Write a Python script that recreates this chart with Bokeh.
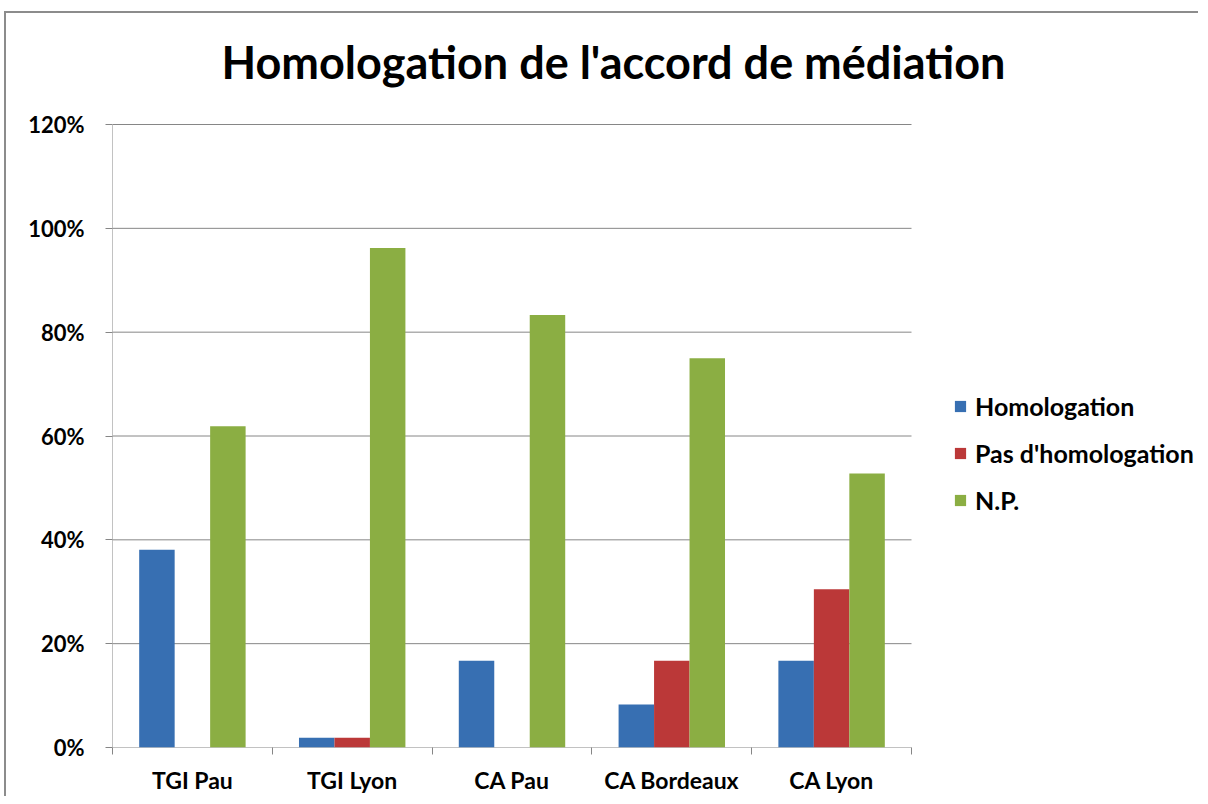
import numpy as np
from bokeh.plotting import figure
from bokeh.models import (Range1d, FixedTicker, NumeralTickFormatter, Legend, LegendItem,
                          ColumnDataSource, Label)
from bokeh.embed import file_html
from bokeh.resources import INLINE

categories = ["TGI Pau", "TGI Lyon", "CA Pau", "CA Bordeaux", "CA Lyon"]
homologation = [0.381, 0.019, 0.167, 0.083, 0.167]
pas_homologation = [0.0, 0.019, 0.0, 0.167, 0.305]
np_values = [0.619, 0.962, 0.833, 0.750, 0.528]
series_names = ["Homologation", "Pas d'homologation", "N.P."]
y_ticks = [0, 0.2, 0.4, 0.6, 0.8, 1.0, 1.2]
title_text = "Homologation de l'accord de médiation"

FONT = "Lato"
colors = ["#376fb2", "#bb3838", "#8bae43"]
GRID = "#868686"
bar_w = 0.222
offsets = [-bar_w, 0.0, bar_w]

# layout (pixels)
W, H = 1194, 785
BL, BB = 106, 51
plot_px_w = 799   # width of the category area
plot_px_h = 623   # height of the 0..120% area
frame_w = W - BL
frame_h = H - BB
n = len(categories)
y_top = y_ticks[-1]
x_end = n * frame_w / plot_px_w
y_end = y_top * frame_h / plot_px_h

p = figure(width=W, height=H, output_backend="svg", toolbar_location=None,
           x_range=Range1d(0, x_end), y_range=Range1d(0, y_end),
           min_border_left=BL, min_border_right=0, min_border_top=0, min_border_bottom=BB)
p.title.visible = False

centers = np.arange(n) + 0.5

# horizontal grid lines limited to the category area, and the vertical axis line
p.segment(x0=[0] * len(y_ticks), x1=[n] * len(y_ticks), y0=y_ticks, y1=y_ticks,
          line_color=GRID, line_width=1)
p.segment(x0=[0], x1=[0], y0=[y_ticks[0]], y1=[y_top], line_color=GRID, line_width=1)

renderers = []
for vals, off, col in zip([homologation, pas_homologation, np_values], offsets, colors):
    src = ColumnDataSource(dict(x=centers + off, top=vals))
    r = p.vbar(x="x", top="top", width=bar_w, source=src, fill_color=col, line_color=None)
    renderers.append(r)

# title (placed in the upper free area of the frame)
title_x = (220 - 111) / plot_px_w * n
title_y = (747 - 61) / plot_px_h * y_top
p.add_layout(Label(x=title_x, y=title_y, text=title_text, text_font=FONT,
                   text_font_size="45px", text_font_style="bold", text_color="#000000",
                   text_align="left", text_baseline="alphabetic"))

xa = p.xaxis[0]
xa.ticker = FixedTicker(ticks=list(centers), minor_ticks=list(range(n + 1)))
xa.major_label_overrides = {float(c): s for c, s in zip(centers, categories)}
xa.major_tick_out = 0
xa.major_tick_in = 0
xa.minor_tick_out = 7
xa.minor_tick_in = 0
xa.minor_tick_line_color = GRID
xa.axis_line_color = None
xa.major_label_text_font = FONT
xa.major_label_text_font_style = "bold"
xa.major_label_text_font_size = "23px"
xa.major_label_text_color = "#000000"
xa.major_label_standoff = 11

ya = p.yaxis[0]
ya.ticker = FixedTicker(ticks=y_ticks)
ya.formatter = NumeralTickFormatter(format="0%")
ya.major_tick_out = 7
ya.major_tick_in = 0
ya.minor_tick_line_color = None
ya.major_tick_line_color = GRID
ya.axis_line_color = None
ya.major_label_text_font = FONT
ya.major_label_text_font_style = "bold"
ya.major_label_text_font_size = "22px"
ya.major_label_text_color = "#000000"
ya.major_label_standoff = 21

p.xgrid.grid_line_color = None
p.ygrid.grid_line_color = None
p.outline_line_color = None

legend = Legend(items=[LegendItem(label=s, renderers=[r]) for s, r in zip(series_names, renderers)],
                location=(841, 232))
legend.label_text_font = FONT
legend.label_text_font_style = "bold"
legend.label_text_font_size = "25px"
legend.label_text_color = "#000000"
legend.glyph_width = 14
legend.glyph_height = 14
legend.label_standoff = 8
legend.spacing = 17
legend.margin = 0
legend.padding = 10
legend.border_line_color = None
legend.background_fill_alpha = 0
p.add_layout(legend, "center")

p.styles = {"margin-left": "4px", "margin-top": "11px",
            "border-top": "2px solid #8c8c8c", "border-left": "2px solid #8c8c8c"}

open("out.html", "w").write(file_html(p, INLINE))
